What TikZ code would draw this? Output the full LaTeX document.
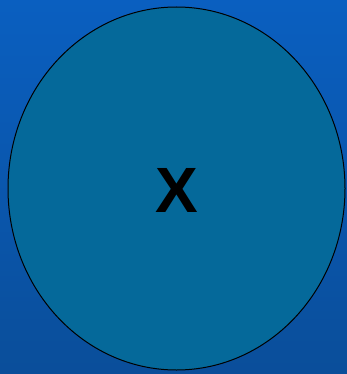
\documentclass[tikz,border=0pt]{standalone}
\usepackage{fontspec}
\setmainfont{Liberation Sans}
\definecolor{bgtop}{HTML}{0A5FC0}
\definecolor{bgbot}{HTML}{0A4E9A}
\definecolor{ellfill}{HTML}{05699A}
\tikzset{blob/.style={ellipse, draw=black, line width=1pt, fill=ellfill, minimum width=337pt, minimum height=363pt, inner sep=0pt}}
\usetikzlibrary{shapes.geometric}
\begin{document}
\begin{tikzpicture}[x=1pt,y=-1pt]
\useasboundingbox (0,0) rectangle (347,374);
\shade[top color=bgtop, bottom color=bgbot] (0,0) rectangle (347,374);
\node[blob] (e) at (176.5,188.5) {};
\node[font=\fontsize{64}{64}\selectfont\bfseries] (x) at (176.5,190.5) {X};
\end{tikzpicture}
\end{document}
